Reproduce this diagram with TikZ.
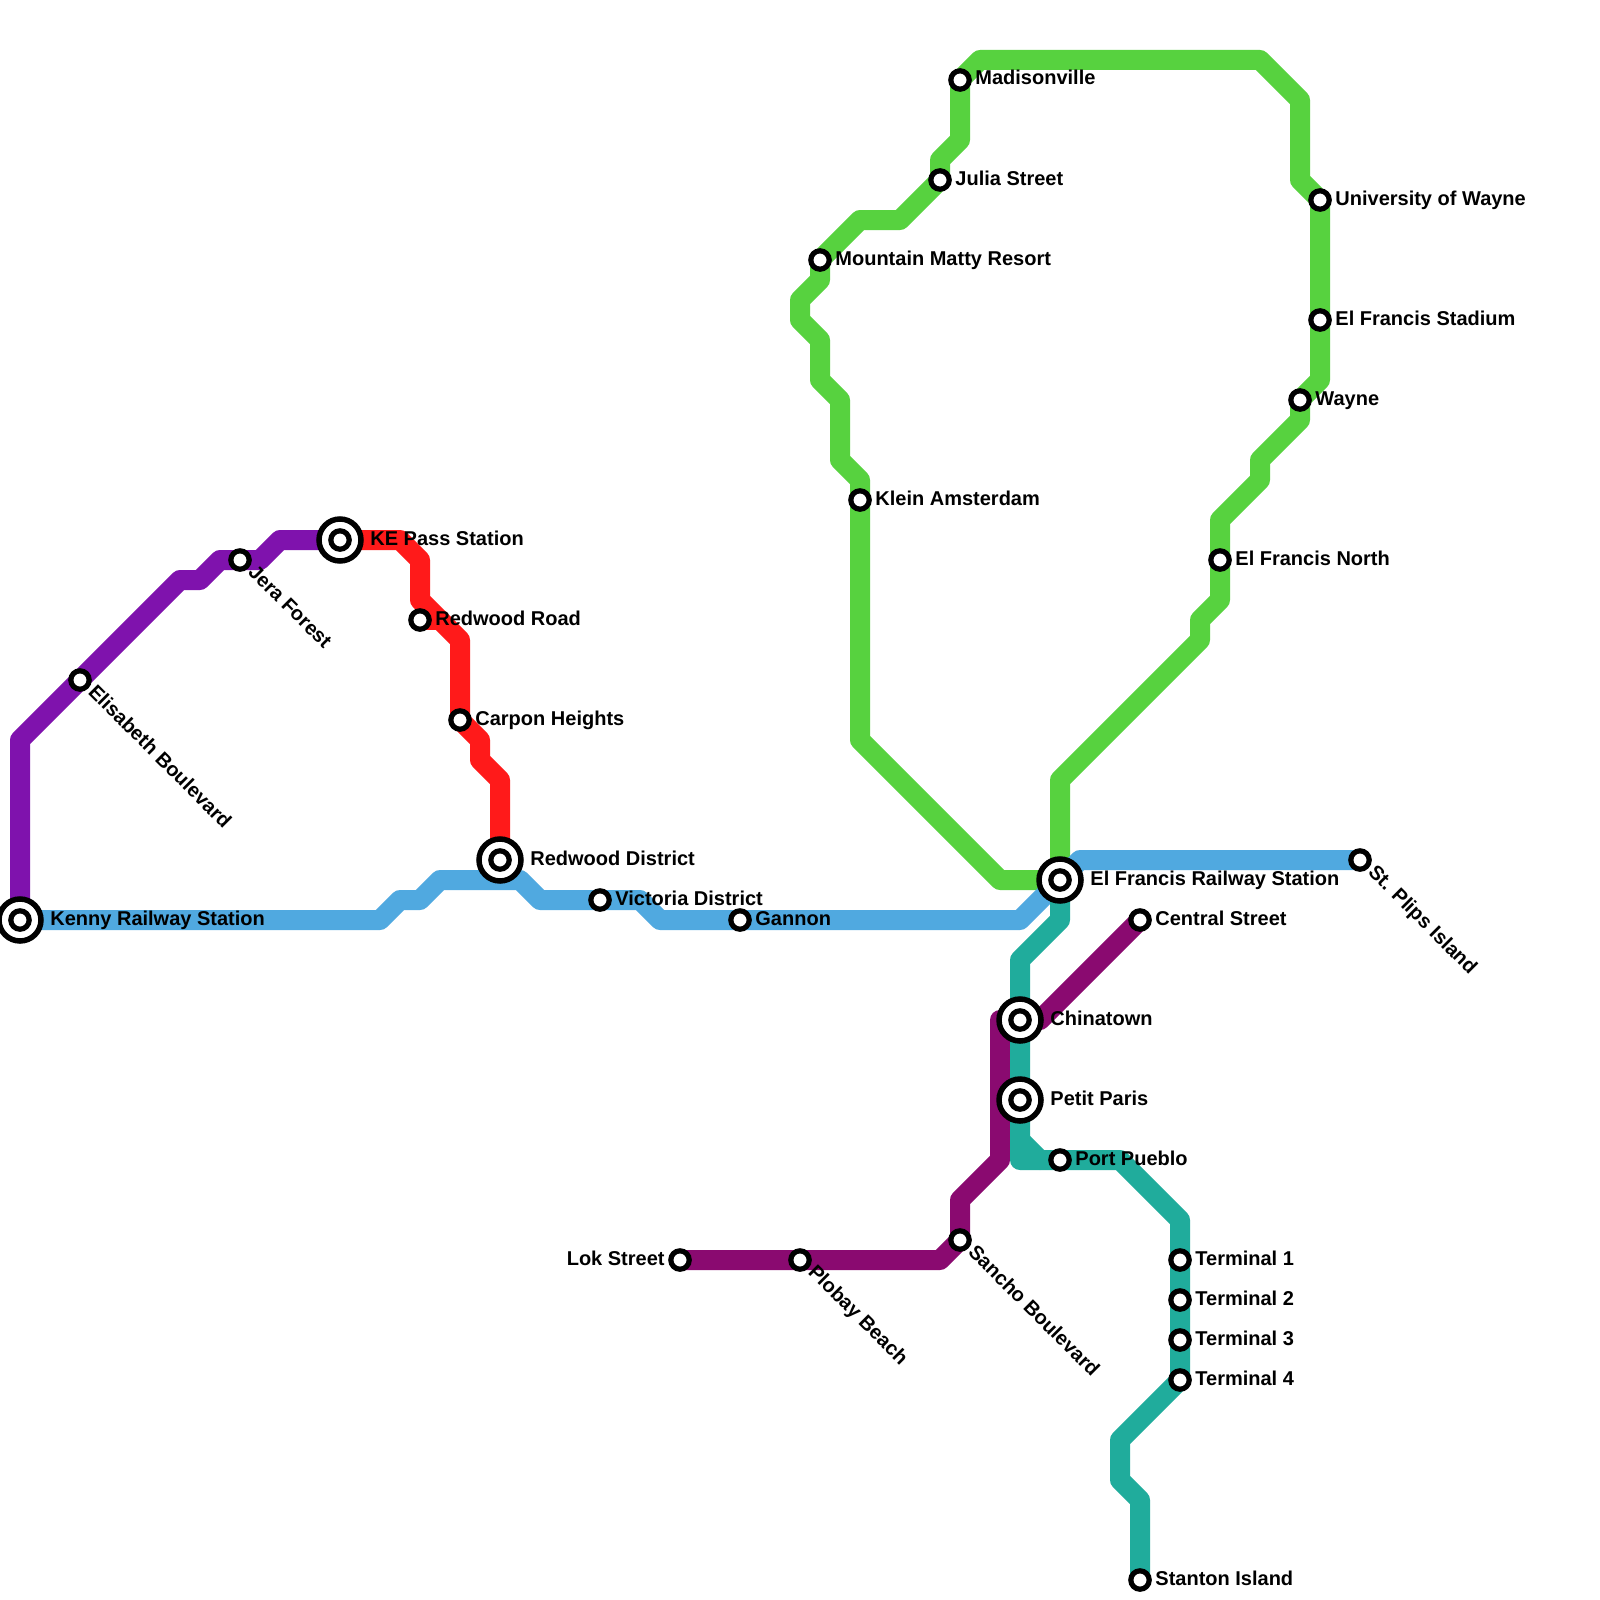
\documentclass[tikz,border=0pt]{standalone}
\usepackage{fontspec}
\setmainfont{Liberation Sans}
\definecolor{cpurple}{HTML}{7F12AD}
\definecolor{cred}{HTML}{FF1A1A}
\definecolor{cblue}{HTML}{50A9E0}
\definecolor{cgreen}{HTML}{57D23F}
\definecolor{cteal}{HTML}{20AC9C}
\definecolor{cmag}{HTML}{8A0A70}
\tikzset{
  metro/.style={line width=10pt,line join=round,line cap=round},
  stationdot/.style={circle,draw=black,fill=white,line width=2.6pt,minimum size=9.2pt,inner sep=0pt},
  stationring/.style={circle,draw=black,fill=white,line width=2.75pt,minimum size=21pt,inner sep=0pt},
  lab/.style={inner sep=0pt,anchor=base west,font=\bfseries\fontsize{10}{11}\selectfont},
  labr/.style={lab,anchor=base east},
  labd/.style={lab,rotate=-45},
}
\begin{document}
\begin{tikzpicture}[x=0.5pt,y=-0.5pt]
\useasboundingbox (0,0) rectangle (1600,1600);
\fill[white] (0,0) rectangle (1600,1600);
% station positions
\foreach \n/\x/\y in {kenny/20/920,elisabeth/80/680,jera/240/560,kepass/340/540,rwroad/420/620,carpon/460/720,rwdist/500/860,victoria/600/900,gannon/740/920,efrail/1060/880,plips/1360/860,madison/960/80,julia/940/180,matty/820/260,klein/860/500,univ/1320/200,stadium/1320/320,wayne/1300/400,efnorth/1220/560,chinatown/1020/1020,petit/1020/1100,pueblo/1060/1160,termA/1180/1260,termB/1180/1300,termC/1180/1340,termD/1180/1380,stanton/1140/1580,central/1140/920,lok/680/1260,plobay/800/1260,sancho/960/1240}
  {\coordinate (\n) at (\x,\y);}
% lines
\draw[metro,cgreen] (efrail) -- (1000,880) -- (860,740) -- (klein) -- (860,480) -- (840,460) -- (840,400) -- (820,380) -- (820,340) -- (800,320) -- (800,300) -- (820,280) -- (matty) -- (860,220) -- (900,220) -- (julia) -- (940,160) -- (960,140) -- (madison) -- (980,60) -- (1260,60) -- (1300,100) -- (1300,180) -- (univ) -- (stadium) -- (1320,380) -- (wayne) -- (1300,420) -- (1260,460) -- (1260,480) -- (1220,520) -- (efnorth) -- (1220,600) -- (1200,620) -- (1200,640) -- (1060,780) -- (efrail);
\draw[metro,cpurple] (kenny) -- (20,740) -- (elisabeth) -- (180,580) -- (200,580) -- (220,560) -- (jera) -- (260,560) -- (280,540) -- (kepass);
\draw[metro,cred] (kepass) -- (400,540) -- (420,560) -- (420,600) -- (440,620) -- (460,640) -- (carpon) -- (480,740) -- (480,760) -- (500,780) -- (rwdist);
\draw[metro,cred] (rwroad) -- (440,620);
\draw[metro,cblue] (kenny) -- (380,920) -- (400,900) -- (420,900) -- (440,880) -- (520,880) -- (540,900) -- (victoria) -- (640,900) -- (660,920) -- (gannon) -- (1020,920) -- (efrail) -- (1080,860) -- (plips);
\draw[metro,cmag] (central) -- (1040,1020) -- (1000,1020) -- (1000,1160) -- (960,1200) -- (sancho) -- (940,1260) -- (plobay) -- (lok);
\draw[metro,cteal] (efrail) -- (1060,920) -- (1020,960) -- (chinatown) -- (petit) -- (1020,1160) -- (pueblo) -- (1120,1160) -- (1180,1220) -- (termA) -- (termB) -- (termC) -- (termD) -- (1120,1440) -- (1120,1480) -- (1140,1500) -- (stanton);
\draw[metro,cteal] (1020,1140) -- (1040,1160);
% interchange rings
\foreach \n in {kenny,kepass,rwdist,efrail,chinatown,petit}
  {\node[stationring] (\n-ring) at (\n) {};}
% stations
\foreach \n in {kenny,elisabeth,jera,kepass,rwroad,carpon,rwdist,victoria,gannon,efrail,plips,madison,julia,matty,klein,univ,stadium,wayne,efnorth,chinatown,petit,pueblo,termA,termB,termC,termD,stanton,central,lok,plobay,sancho}
  {\node[stationdot] (\n-dot) at (\n) {};}
% labels, straight
\foreach \n/\dx/\t in {kenny/30/Kenny Railway Station,kepass/30/KE Pass Station,rwdist/30/Redwood District,efrail/30/El Francis Railway Station,chinatown/30/Chinatown,petit/30/Petit Paris,rwroad/15/Redwood Road,carpon/15/Carpon Heights,victoria/15/Victoria District,gannon/15/Gannon,madison/15/Madisonville,julia/15/Julia Street,matty/15/Mountain Matty Resort,klein/15/Klein Amsterdam,univ/15/University of Wayne,stadium/15/El Francis Stadium,wayne/15/Wayne,efnorth/15/El Francis North,pueblo/15/Port Pueblo,termA/15/Terminal 1,termB/15/Terminal 2,termC/15/Terminal 3,termD/15/Terminal 4,stanton/15/Stanton Island,central/15/Central Street}
  {\node[lab] (\n-label) at ([shift={(\dx,5)}]\n) {\t};}
\node[labr] (lok-label) at ([shift={(-15,5)}]lok) {Lok Street};
% labels, slanted
\foreach \n/\t in {elisabeth/Elisabeth Boulevard,jera/Jera Forest,plobay/Plobay Beach,sancho/Sancho Boulevard,plips/St. Plips Island}
  {\node[labd] (\n-label) at ([shift={(7,13)}]\n) {\t};}
\end{tikzpicture}
\end{document}
